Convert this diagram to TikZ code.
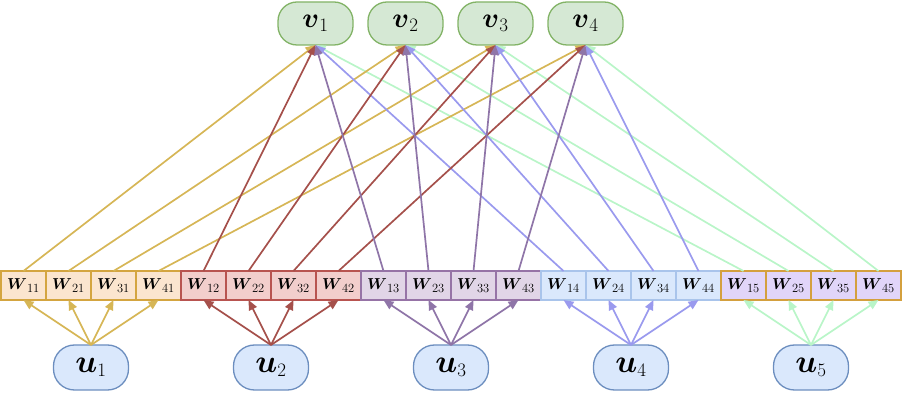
\documentclass[tikz,border=0pt]{standalone}
\usepackage{amsmath,amssymb}
\usepackage{tikz}
\usetikzlibrary{arrows.meta,positioning}
\definecolor{vfill}{HTML}{D5E8D4}
\definecolor{vline}{HTML}{82B366}
\definecolor{ufill}{HTML}{DAE8FC}
\definecolor{uline}{HTML}{6C8EBF}
\definecolor{peach}{HTML}{FBE5CF}
\definecolor{rose}{HTML}{F2CECC}
\definecolor{lilac}{HTML}{E1D5E7}
\definecolor{sky}{HTML}{DAE8FC}
\definecolor{lavender}{HTML}{E1D5F9}
\definecolor{gold}{HTML}{D4A540}
\definecolor{brick}{HTML}{B85450}
\definecolor{plum}{HTML}{9673A6}
\definecolor{skyline}{HTML}{A9C4EB}
\definecolor{amber}{HTML}{D4A03E}
\definecolor{mustard}{HTML}{D6B656}
\definecolor{rust}{HTML}{A5504B}
\definecolor{grape}{HTML}{8F75A8}
\definecolor{periwinkle}{HTML}{9A9AEE}
\definecolor{mint}{HTML}{B9F5C8}
\newcommand{\vlab}[1]{$\scalebox{1.12}{$\boldsymbol{v}$}_{\mbox{\fontsize{19}{19}\selectfont #1}}$}
\newcommand{\ulab}[1]{$\scalebox{1.3}{$\boldsymbol{u}$}_{\mbox{\fontsize{19}{19}\selectfont #1}}$}
\newcommand{\wlab}[1]{$\scalebox{1.1}{$\boldsymbol{W}$}_{\mbox{\fontsize{12.5}{12.5}\selectfont #1}}$}

\begin{document}
\begin{tikzpicture}[x=1pt, y=1pt, node distance=0pt,
  vnode/.style={draw=vline,fill=vfill,line width=1.3pt,rounded corners=19pt,minimum width=75pt,minimum height=43pt,outer sep=0pt,font=\fontsize{24.88}{30}\selectfont},
  unode/.style={draw=uline,fill=ufill,line width=1.3pt,rounded corners=21pt,minimum width=75pt,minimum height=45pt,outer sep=0pt,font=\fontsize{24.88}{30}\selectfont},
  wbox/.style={line width=1.7pt,minimum width=45pt,minimum height=29pt,inner sep=0pt,outer sep=0pt,font=\fontsize{14.4}{18}\selectfont},
  wone/.style={wbox,draw=gold,fill=peach},
  wtwo/.style={wbox,draw=brick,fill=rose},
  wthree/.style={wbox,draw=plum,fill=lilac},
  wfour/.style={wbox,draw=skyline,fill=sky},
  wfive/.style={wbox,draw=amber,fill=lavender},
  link/.style={-{Stealth[length=10pt,width=8.5pt,inset=0pt]},line width=1.7pt}]
\useasboundingbox (0,0) rectangle (904,393);
% output nodes
\node[vnode] (v1) at (315.5,369.5) {\vlab{1}};
\node[vnode,right=15pt of v1] (v2) {\vlab{2}};
\node[vnode,right=15pt of v2] (v3) {\vlab{3}};
\node[vnode,right=15pt of v3] (v4) {\vlab{4}};
% weight row
\node[wone] (w11) at (23.5,107.5) {\wlab{11}};
\node[wone,right=of w11] (w21) {\wlab{21}};
\node[wone,right=of w21] (w31) {\wlab{31}};
\node[wone,right=of w31] (w41) {\wlab{41}};
\node[wtwo,right=of w41] (w12) {\wlab{12}};
\node[wtwo,right=of w12] (w22) {\wlab{22}};
\node[wtwo,right=of w22] (w32) {\wlab{32}};
\node[wtwo,right=of w32] (w42) {\wlab{42}};
\node[wthree,right=of w42] (w13) {\wlab{13}};
\node[wthree,right=of w13] (w23) {\wlab{23}};
\node[wthree,right=of w23] (w33) {\wlab{33}};
\node[wthree,right=of w33] (w43) {\wlab{43}};
\node[wfour,right=of w43] (w14) {\wlab{14}};
\node[wfour,right=of w14] (w24) {\wlab{24}};
\node[wfour,right=of w24] (w34) {\wlab{34}};
\node[wfour,right=of w34] (w44) {\wlab{44}};
\node[wfive,right=of w44] (w15) {\wlab{15}};
\node[wfive,right=of w15] (w25) {\wlab{25}};
\node[wfive,right=of w25] (w35) {\wlab{35}};
\node[wfive,right=of w35] (w45) {\wlab{45}};
% input nodes
\node[unode] (u1) at (91,25.5) {\ulab{1}};
\node[unode,right=105pt of u1] (u2) {\ulab{2}};
\node[unode,right=105pt of u2] (u3) {\ulab{3}};
\node[unode,right=105pt of u3] (u4) {\ulab{4}};
\node[unode,right=105pt of u4] (u5) {\ulab{5}};
% inputs to weights
\draw[link,mustard] (u1.north)--(w11.south);
\draw[link,mustard] (u1.north)--(w21.south);
\draw[link,mustard] (u1.north)--(w31.south);
\draw[link,mustard] (u1.north)--(w41.south);
\draw[link,rust] (u2.north)--(w12.south);
\draw[link,rust] (u2.north)--(w22.south);
\draw[link,rust] (u2.north)--(w32.south);
\draw[link,rust] (u2.north)--(w42.south);
\draw[link,grape] (u3.north)--(w13.south);
\draw[link,grape] (u3.north)--(w23.south);
\draw[link,grape] (u3.north)--(w33.south);
\draw[link,grape] (u3.north)--(w43.south);
\draw[link,periwinkle] (u4.north)--(w14.south);
\draw[link,periwinkle] (u4.north)--(w24.south);
\draw[link,periwinkle] (u4.north)--(w34.south);
\draw[link,periwinkle] (u4.north)--(w44.south);
\draw[link,mint] (u5.north)--(w15.south);
\draw[link,mint] (u5.north)--(w25.south);
\draw[link,mint] (u5.north)--(w35.south);
\draw[link,mint] (u5.north)--(w45.south);
% weights to outputs
\draw[link,mint] (w15.north)--(v1.south);
\draw[link,mint] (w25.north)--(v2.south);
\draw[link,mint] (w35.north)--(v3.south);
\draw[link,mint] (w45.north)--(v4.south);
\draw[link,mustard] (w11.north)--(v1.south);
\draw[link,mustard] (w21.north)--(v2.south);
\draw[link,mustard] (w31.north)--(v3.south);
\draw[link,mustard] (w41.north)--(v4.south);
\draw[link,periwinkle] (w14.north)--(v1.south);
\draw[link,periwinkle] (w24.north)--(v2.south);
\draw[link,periwinkle] (w34.north)--(v3.south);
\draw[link,periwinkle] (w44.north)--(v4.south);
\draw[link,rust] (w12.north)--(v1.south);
\draw[link,rust] (w22.north)--(v2.south);
\draw[link,rust] (w32.north)--(v3.south);
\draw[link,rust] (w42.north)--(v4.south);
\draw[link,grape] (w13.north)--(v1.south);
\draw[link,grape] (w23.north)--(v2.south);
\draw[link,grape] (w33.north)--(v3.south);
\draw[link,grape] (w43.north)--(v4.south);
\end{tikzpicture}
\end{document}
